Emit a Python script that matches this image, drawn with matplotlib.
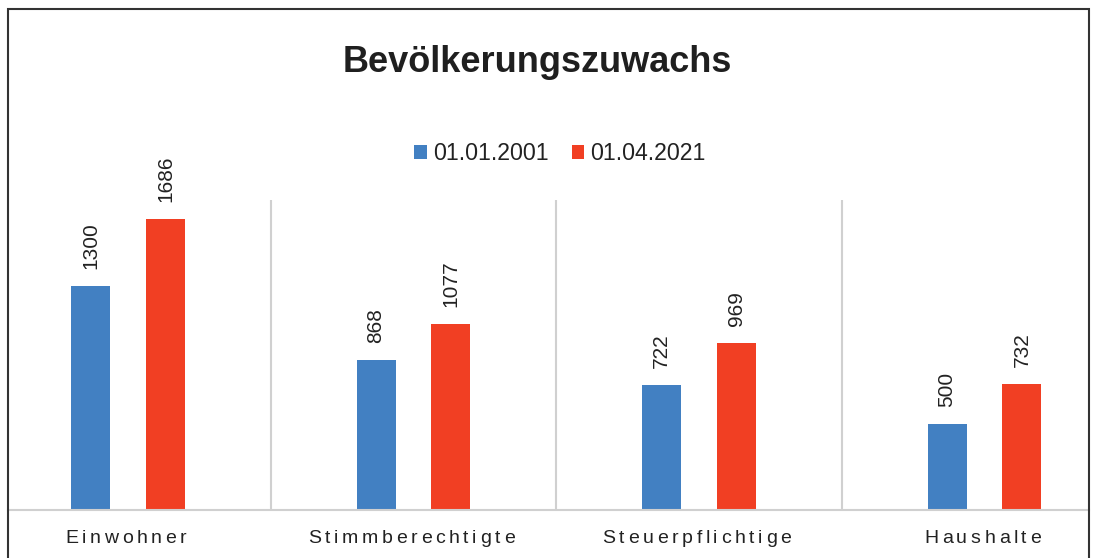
import numpy as np
import matplotlib
matplotlib.use('Agg')
import matplotlib.pyplot as plt
from matplotlib.patches import Rectangle
from matplotlib.font_manager import FontProperties

# data
categories = ['Einwohner', 'Stimmberechtigte', 'Steuerpflichtige', 'Haushalte']
werte_2001 = [1300, 868, 722, 500]
werte_2021 = [1686, 1077, 969, 732]
serien = ['01.01.2001', '01.04.2021']

blau = '#4280C2'
rot = '#F13F23'
grau = '#d0d0d0'
textfarbe = '#222222'

plt.rcParams['font.family'] = ['Liberation Sans', 'DejaVu Sans']

W, H = 1093, 558
fig = plt.figure(figsize=(W / 100, H / 100), dpi=100)

# axes is a bit wider than the figure (picture is cropped left and right)
ax = fig.add_axes([-14.75 / W, 48 / H, 1142 / W, 310.5 / H])
x = np.arange(len(categories))
off = 0.131
bw = 0.137
b1 = ax.bar(x - off, werte_2001, width=bw, color=blau, label=serien[0])
b2 = ax.bar(x + off, werte_2021, width=bw, color=rot, label=serien[1])

ax.set_xlim(-0.5, len(categories) - 0.5)
ax.set_ylim(0, 1800)
ax.set_xticks([])
ax.set_yticks([])
for s in ['left', 'right', 'top']:
    ax.spines[s].set_visible(False)
ax.spines['bottom'].set_color(grau)
ax.spines['bottom'].set_linewidth(1.5)
ax.spines['bottom'].set_bounds(-0.42, 3.366)
for sep in x[:-1] + 0.5:
    ax.axvline(sep, color=grau, lw=1.5, zorder=0)

# value labels
for xs, vals in [(x - off, werte_2001), (x + off, werte_2021)]:
    for xi, v in zip(xs, vals):
        ax.annotate(str(v), (xi, v), xytext=(0, 17), textcoords='offset pixels',
                    rotation=90, ha='center', va='bottom', fontsize=15, color=textfarbe)

# category labels with letter spacing
fp = FontProperties(family='Liberation Sans', size=14)
renderer = fig.canvas.get_renderer()
sperr = 3.6
y_base = (H - 543) / H
for xi, name in zip(x, categories):
    breiten = [renderer.get_text_width_height_descent(ch, fp, ismath=False)[0] for ch in name]
    gesamt = sum(breiten) + sperr * (len(name) - 1)
    cx = ax.transData.transform((xi, 0))[0] - 2
    px = cx - gesamt / 2
    for ch, b in zip(name, breiten):
        fig.text(px / W, y_base, ch, fontproperties=fp, color=textfarbe,
                 ha='left', va='baseline')
        px += b + sperr

# title
fig.text(537.5 / W, (H - 72) / H, 'Bevölkerungszuwachs', fontsize=26, fontweight='bold',
         color='#1f1f1f', ha='center', va='baseline')

# legend
fig.legend(handles=[b1, b2], labels=serien, loc='center', ncol=2, frameon=False,
           bbox_to_anchor=(560 / W, (H - 154) / H), fontsize=16.7,
           handlelength=0.55, handleheight=0.55, handletextpad=0.25,
           columnspacing=1.0, labelcolor=textfarbe)

# outer border
fig.add_artist(Rectangle((8 / W, -0.1), (1089 - 8) / W, 1 - 9 / H + 0.1, fill=False,
                         ec='#333333', lw=1.5, transform=fig.transFigure, clip_on=False))

fig.savefig('out.png', dpi=100)
